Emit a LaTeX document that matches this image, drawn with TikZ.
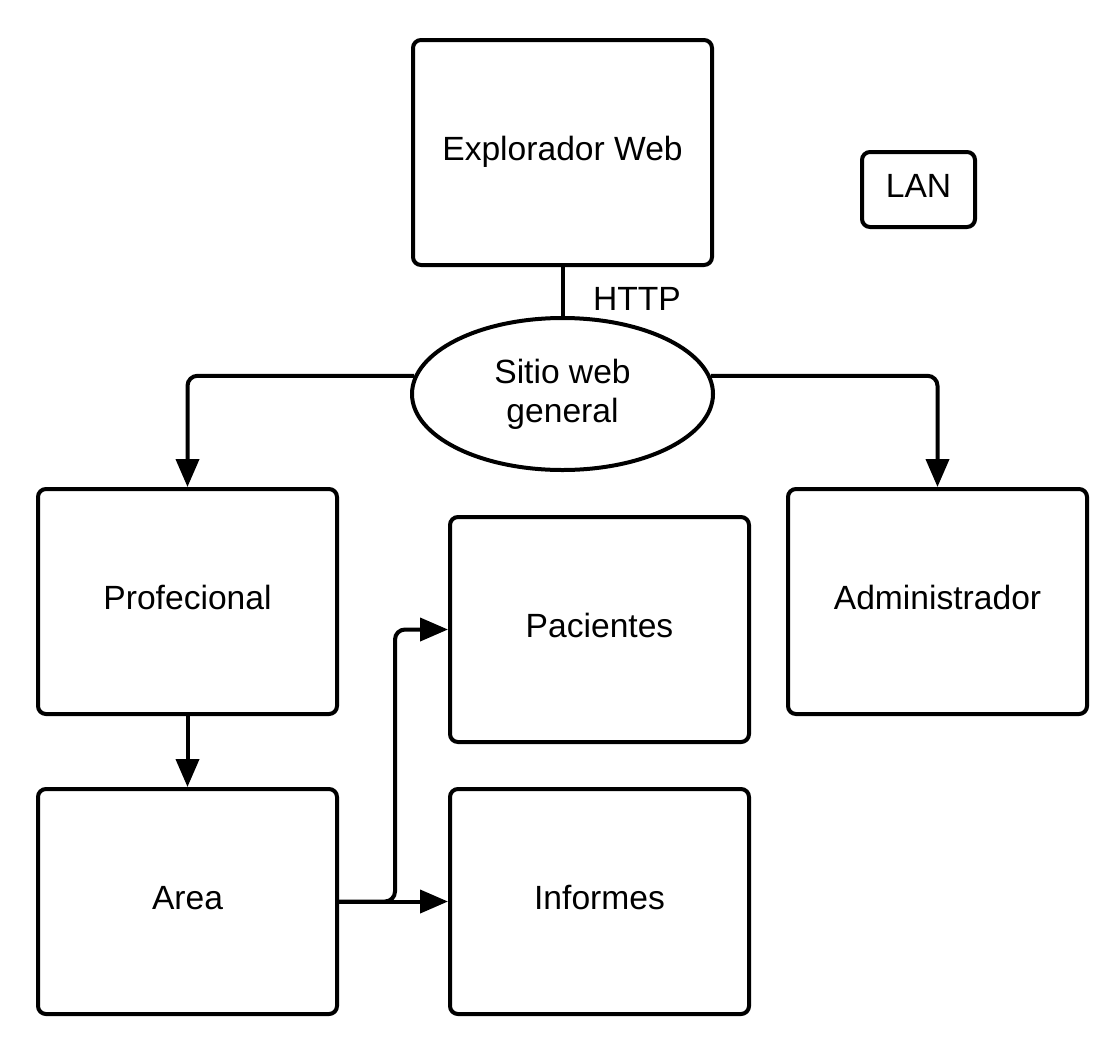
\documentclass[tikz,border=0pt]{standalone}
\usepackage{fontspec}
\setmainfont{Liberation Sans}
\usetikzlibrary{arrows.meta,shapes.geometric}
\begin{document}
\begin{tikzpicture}[x=0.5pt,y=-0.5pt,
  every node/.style={font=\fontsize{16.8}{19.5}\selectfont},
  box/.style={draw,line width=2pt,rounded corners=4pt,minimum width=149.5pt,minimum height=112.5pt,inner sep=0pt,
    text height=12pt,text depth=4.5pt},
  conn/.style={line width=2pt,rounded corners=5pt},
  arr/.style={conn,-{Triangle[length=14pt,width=11.5pt]}}]
\useasboundingbox (0,0) rectangle (1118,1050);
\node[box] (exp) at (562.5,152.5) {Explorador Web};
\node[box,minimum width=56.5pt,minimum height=37.5pt] (lan) at (918.5,189.5) {LAN};
\node[draw,ellipse,line width=2pt,minimum width=150.5pt,minimum height=76pt,inner sep=0pt,align=center] (ell) at (562.5,394) {Sitio web\\general};
\node (http) at (637,299) {HTTP};
\node[box] (prof) at (187.5,601.5) {Profecional};
\node[box] (adm) at (937.5,601.5) {Administrador};
\node[box] (pac) at (599.5,629.5) {Pacientes};
\node[box] (area) at (187.5,901.5) {Area};
\node[box] (inf) at (599.5,901.5) {Informes};
\draw[conn] (exp.south) -- (ell.north);
\draw[arr] (ell.173.4) -| (prof.north);
\draw[arr] (ell.7.2) -| (adm.north);
\draw[arr] (prof.south) -- (area.north);
\draw[arr] (area.east) -- (inf.west);
\draw[arr] (area.east) -- ++(56,0) |- (pac.west);
\end{tikzpicture}
\end{document}
